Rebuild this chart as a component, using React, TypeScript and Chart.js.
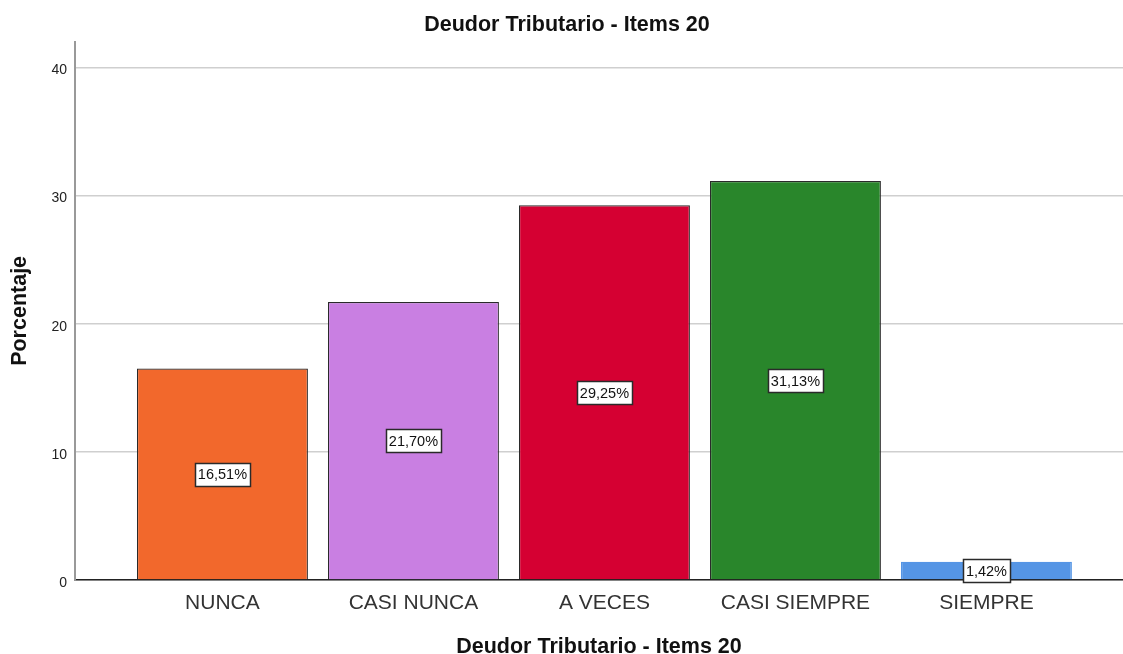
import React, { useEffect, useRef } from "react";
import { Chart, registerables } from "chart.js";

Chart.register(...registerables);

const categories = ["NUNCA", "CASI NUNCA", "A VECES", "CASI SIEMPRE", "SIEMPRE"];
const percentages = [16.51, 21.7, 29.25, 31.13, 1.42];
const percentLabels = ["16,51%", "21,70%", "29,25%", "31,13%", "1,42%"];
const barColors = ["#F2682C", "#C97FE2", "#D50032", "#29862B", "#5595E5"];
const borderColors = ["#2a2a2a", "#2a2a2a", "#2a2a2a", "#2a2a2a", "#5595E5"];
const yTicks = [0, 10, 20, 30, 40];

const FONT = "'Liberation Sans', Arial, sans-serif";

const labelPlugin = {
  id: "boxLabels",
  afterDatasetsDraw(chart: any) {
    const ctx = chart.ctx;
    const meta = chart.getDatasetMeta(0);
    const yScale = chart.scales.y;
    ctx.save();
    ctx.font = `14.5px ${FONT}`;
    ctx.textAlign = "center";
    ctx.textBaseline = "middle";
    meta.data.forEach((bar: any, i: number) => {
      const x = bar.x;
      const y = yScale.getPixelForValue(percentages[i] / 2);
      const text = percentLabels[i];
      const w = Math.round(ctx.measureText(text).width + 6);
      const h = 23;
      const bx = Math.round(x - w / 2) + 0.5;
      const by = Math.round(y - h / 2) + 0.5;
      ctx.fillStyle = "#ffffff";
      ctx.fillRect(bx, by, w, h);
      ctx.strokeStyle = "#2a2a2a";
      ctx.lineWidth = 1.5;
      ctx.strokeRect(bx, by, w, h);
      ctx.fillStyle = "#111111";
      ctx.fillText(text, x, y + 1);
    });
    ctx.restore();
  },
};

export default function App() {
  const ref = useRef<HTMLCanvasElement>(null);
  useEffect(() => {
    document.body.style.margin = "0";
    const chart = new Chart(ref.current as HTMLCanvasElement, {
      type: "bar",
      data: {
        datasets: [
          {
            data: percentages.map((v, i) => ({ x: i, y: v })),
            backgroundColor: barColors,
            borderColor: borderColors,
            borderWidth: 1.2,
            barPercentage: 0.895,
            categoryPercentage: 1,
          },
        ],
      },
      options: {
        animation: false,
        responsive: true,
        maintainAspectRatio: false,
        layout: { padding: { left: 11, right: 0, top: 0, bottom: 0 } },
        plugins: {
          legend: { display: false },
          tooltip: { enabled: false },
          title: {
            display: true,
            text: "Deudor Tributario - Items 20",
            color: "#111",
            font: { family: FONT, size: 21.5, weight: "bold", lineHeight: 1.2 },
            padding: { top: 12, bottom: 4 },
          },
        },
        scales: {
          x: {
            type: "linear",
            offset: false,
            min: -0.772,
            max: 4.715,
            afterBuildTicks(scale: any) {
              scale.ticks = categories.map((_, i) => ({ value: i }));
            },
            afterFit(scale: any) {
              scale.height = 74;
            },
            grid: { display: false, drawTicks: false, offset: false },
            border: { display: true, color: "#222", width: 1.5 },
            ticks: {
              padding: 11,
              color: "#333",
              font: { family: FONT, size: 21 },
              autoSkip: false,
              maxRotation: 0,
              callback: (v: any) => categories[v as number] ?? "",
            },
            title: {
              display: true,
              text: "Deudor Tributario - Items 20",
              color: "#111",
              font: { family: FONT, size: 21.5, weight: "bold", lineHeight: 0.6 },
              padding: { top: 0, bottom: 0 },
            },
          },
          y: {
            type: "linear",
            min: 0,
            max: 42,
            afterBuildTicks(scale: any) {
              scale.ticks = yTicks.map((v) => ({ value: v }));
            },
            afterFit(scale: any) {
              scale.width = 64;
            },
            grid: { color: "#cfcfcf", lineWidth: 1.5, drawTicks: false },
            border: { display: true, color: "#999", width: 2 },
            ticks: {
              padding: 8,
              labelOffset: 3,
              color: "#222",
              font: { family: FONT, size: 14 },
            },
            title: {
              display: true,
              text: "Porcentaje",
              color: "#111",
              font: { family: FONT, size: 21.5, weight: "bold", lineHeight: 1.2 },
              padding: { top: -4, bottom: 0 },
            },
          },
        },
      } as any,
      plugins: [labelPlugin],
    });
    return () => chart.destroy();
  }, []);
  return (
    <div style={{ width: 1123, height: 654, position: "relative" }}>
      <canvas ref={ref} />
    </div>
  );
}
